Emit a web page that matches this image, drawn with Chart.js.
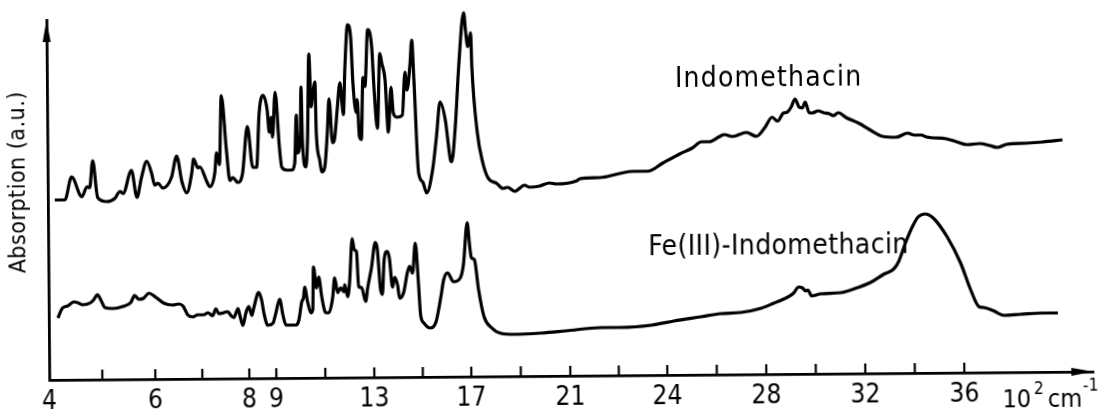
<!DOCTYPE html>
<html>
<head>
<meta charset="utf-8">
<title>IR spectra</title>
<script src="https://cdn.jsdelivr.net/npm/chart.js@4.4.1/dist/chart.umd.min.js"></script>
<style>
  html, body { margin: 0; padding: 0; background: #fff; overflow: hidden; }
  #spec { display: block; transform: rotate(-0.46deg); transform-origin: 50% 50%; }
</style>
</head>
<body>
<canvas id="spec" width="1103" height="416"></canvas>
<script>
// wavenumbers in 10^2 cm-1, absorption in arbitrary units
const TICK_WN = [4, 6, 8, 9, 13, 17, 21, 24, 28, 32, 36];
const MINOR_WN = [5, 7, 11, 15, 19, 22.5, 26, 30, 34];

const INDO_WN = [4.13,4.32,4.45,4.64,4.74,4.79,4.85,4.94,5.11,5.26,
  5.36,5.42,5.58,5.68,5.77,5.87,5.96,6.02,6.09,6.19,
  6.38,6.49,6.60,6.70,6.81,6.85,6.94,6.98,7.13,7.19,
  7.30,7.34,7.40,7.45,7.55,7.62,7.68,7.79,7.89,8.00,
  8.19,8.33,8.44,8.59,8.74,8.81,8.89,8.93,9.04,9.20,
  9.29,9.49,9.69,9.82,9.90,9.94,10.06,10.10,10.14,10.27,
  10.35,10.43,10.51,10.55,10.67,10.71,10.84,10.92,11.04,11.16,
  11.24,11.37,11.45,11.57,11.69,11.78,11.82,11.90,12.02,12.14,
  12.22,12.35,12.39,12.47,12.55,12.63,12.71,12.84,13.00,13.08,
  13.21,13.33,13.41,13.54,13.66,13.78,13.87,14.03,14.24,14.36,
  14.44,14.57,14.65,14.73,14.89,15.06,15.22,15.47,15.64,15.80,
  16.01,16.21,16.26,16.42,16.58,16.80,16.88,16.96,17.08,17.12,
  17.32,17.53,17.73,18.09,18.33,18.53,18.81,19.21,19.41,19.82,
  20.22,20.50,21.25,21.34,21.96,22.58,22.98,23.45,23.91,24.57,
  25.09,25.45,25.78,26.18,26.38,26.71,27.27,27.68,28.00,28.32,
  28.53,28.77,28.93,29.09,29.25,29.41,29.54,29.66,29.82,29.94,
  30.18,30.42,30.63,30.79,30.99,31.31,31.84,32.24,32.77,33.33,
  33.78,34.06,34.34,34.55,35.35,35.76,36.20,36.69,37.09,37.41,
  37.78,38.59,39.23,40.04];
const INDO_ABS = [180,180,203,183,193,192,219,182,178,181,
  188,186,209,182,202,218,206,194,196,191,
  202,223,197,186,206,220,211,212,197,192,
  206,226,214,283,229,198,201,196,205,252,
  211,211,265,283,268,246,261,241,286,231,
  211,208,208,215,263,225,245,291,238,211,
  238,324,271,278,296,245,218,206,210,245,
  279,235,238,268,295,271,263,311,353,341,
  295,265,278,241,238,300,291,348,330,290,
  249,324,314,297,245,290,264,260,262,305,
  287,312,337,297,205,195,184,207,240,275,
  257,217,215,250,310,364,344,330,344,310,
  244,214,199,193,188,189,185,191,189,190,
  193,192,195,197,198,202,204,204,212,221,
  227,233,233,238,240,238,242,238,246,257,
  253,261,262,267,275,267,266,272,261,261,
  263,261,260,258,261,256,250,244,237,236,
  240,238,238,236,234,231,228,229,227,225,
  228,229,230,232];

const FE_WN = [4.17,4.26,4.36,4.47,4.55,4.64,4.79,4.85,4.92,4.98,
  5.06,5.21,5.40,5.55,5.62,5.70,5.79,5.89,6.02,6.19,
  6.38,6.51,6.60,6.70,6.81,6.91,7.04,7.13,7.23,7.30,
  7.36,7.47,7.55,7.62,7.68,7.77,7.81,7.87,7.94,8.00,
  8.11,8.19,8.37,8.48,8.56,8.70,8.89,9.00,9.16,9.29,
  9.41,9.82,9.94,10.06,10.14,10.18,10.31,10.43,10.51,10.55,
  10.67,10.76,10.88,11.04,11.16,11.33,11.41,11.53,11.65,11.78,
  11.82,11.94,12.02,12.14,12.22,12.31,12.39,12.51,12.67,12.76,
  12.92,13.08,13.16,13.28,13.36,13.44,13.57,13.66,13.78,13.87,
  13.99,14.07,14.24,14.40,14.49,14.61,14.73,14.85,14.93,15.06,
  15.31,15.56,15.77,15.89,16.05,16.30,16.58,16.71,16.88,16.96,
  17.04,17.16,17.32,17.53,17.82,18.22,18.75,19.82,20.83,21.96,
  22.58,23.51,24.28,25.37,26.18,26.99,27.80,28.32,28.89,29.13,
  29.33,29.49,29.62,29.70,29.86,30.22,31.03,31.72,32.24,32.77,
  33.17,33.37,33.66,33.94,34.18,34.46,34.79,35.35,35.88,36.28,
  36.61,36.81,37.17,37.62,38.30,39.11,39.80];
const FE_ABS = [62,72,74,78,77,75,77,80,85,80,
  72,71,73,77,84,80,81,86,82,76,
  74,75,73,64,62,64,64,66,63,70,
  65,66,67,63,61,70,63,53,66,72,
  63,71,86,78,65,53,55,65,79,63,
  53,53,58,76,81,91,75,65,68,111,
  90,101,81,65,65,81,100,85,90,86,
  93,81,95,139,128,126,91,90,76,90,
  110,135,129,89,83,117,126,119,90,100,
  92,79,85,105,111,104,134,94,62,54,
  49,55,80,97,104,95,99,112,154,134,
  119,117,87,60,49,43,42,43,45,48,
  48,50,54,58,61,62,66,71,77,81,
  87,86,83,84,78,80,81,86,91,99,
  104,111,130,146,156,159,155,136,110,83,
  66,65,62,57,58,59,59];

// the paper's wavenumber axis is not linear: labelled ticks sit at these axis positions
const AXIS_POS = [0, 106, 200, 227, 325, 422, 521, 618, 717, 816, 915];
const AXIS_END = 1044;
const FONT = '"DejaVu Sans Condensed", "DejaVu Sans", sans-serif';

function warp(w) {
  const n = TICK_WN.length;
  let i = 0;
  while (i < n - 2 && w > TICK_WN[i + 1]) i++;
  const t = (w - TICK_WN[i]) / (TICK_WN[i + 1] - TICK_WN[i]);
  return AXIS_POS[i] + t * (AXIS_POS[i + 1] - AXIS_POS[i]);
}

const tickText = new Map(TICK_WN.map(w => [Math.round(warp(w) * 100), String(w)]));

const axisDecor = {
  id: 'axisDecor',
  afterDraw(chart) {
    const { ctx, chartArea: a, scales: { x } } = chart;
    ctx.save();
    ctx.strokeStyle = '#000';
    ctx.fillStyle = '#000';

    // small ticks pointing up into the plot
    ctx.lineWidth = 2.2;
    TICK_WN.slice(1).concat(MINOR_WN).forEach(w => {
      const px = x.getPixelForValue(warp(w));
      ctx.beginPath();
      ctx.moveTo(px, a.bottom);
      ctx.lineTo(px, a.bottom - 10);
      ctx.stroke();
    });

    // arrow heads
    ctx.beginPath();
    ctx.moveTo(a.left, a.top);
    ctx.lineTo(a.left - 4, a.top + 22);
    ctx.lineTo(a.left + 4, a.top + 22);
    ctx.closePath();
    ctx.fill();
    ctx.beginPath();
    ctx.moveTo(a.right, a.bottom);
    ctx.lineTo(a.right - 22, a.bottom - 4);
    ctx.lineTo(a.right - 22, a.bottom + 4);
    ctx.closePath();
    ctx.fill();

    // axis title
    ctx.save();
    ctx.translate(19, 178);
    ctx.rotate(-Math.PI / 2);
    ctx.font = '23px ' + FONT;
    ctx.letterSpacing = '0.5px';
    ctx.textAlign = 'center';
    ctx.textBaseline = 'middle';
    ctx.fillText('Absorption (a.u.)', 0, 0);
    ctx.restore();

    // curve names
    ctx.textAlign = 'left';
    ctx.textBaseline = 'alphabetic';
    ctx.font = '28px ' + FONT;
    ctx.letterSpacing = '1.2px';
    ctx.fillText('Indomethacin', 676, 88);
    ctx.letterSpacing = '0.4px';
    ctx.fillText('Fe(III)-Indomethacin', 648, 256);
    ctx.letterSpacing = '0px';

    // unit 10^2 cm^-1
    let ux = 1001;
    const uy = 411;
    ctx.font = '25px ' + FONT;
    ctx.fillText('10', ux, uy);
    ux += ctx.measureText('10').width + 3;
    ctx.font = '17px ' + FONT;
    ctx.fillText('2', ux, uy - 13);
    ux += ctx.measureText('2').width + 4;
    ctx.font = '25px ' + FONT;
    ctx.fillText('cm', ux, uy);
    ux += ctx.measureText('cm').width + 1;
    ctx.font = '17px ' + FONT;
    ctx.fillText('-1', ux, uy - 16);
    ctx.restore();
  }
};

const series = (wn, abs) => wn.map((w, i) => ({ x: warp(w), y: abs[i] }));

const line = (label, data) => ({
  label: label,
  data: data,
  borderColor: '#000',
  borderWidth: 3.2,
  pointRadius: 0,
  fill: false,
  cubicInterpolationMode: 'monotone',
  clip: false
});

new Chart(document.getElementById('spec').getContext('2d'), {
  type: 'line',
  data: {
    datasets: [
      line('Indomethacin', series(INDO_WN, INDO_ABS)),
      line('Fe(III)-Indomethacin', series(FE_WN, FE_ABS))
    ]
  },
  options: {
    responsive: false,
    animation: false,
    events: [],
    layout: { padding: { top: 16, right: 11, left: 0, bottom: 0 } },
    plugins: { legend: { display: false }, tooltip: { enabled: false } },
    scales: {
      x: {
        type: 'linear',
        min: 0,
        max: AXIS_END,
        grid: { display: false, drawTicks: false },
        border: { display: true, color: '#000', width: 2.8 },
        afterBuildTicks: s => {
          s.ticks = TICK_WN.concat(MINOR_WN).map(w => ({ value: warp(w) }));
        },
        afterFit: s => { s.height = 40; },
        ticks: {
          autoSkip: false,
          maxRotation: 0,
          padding: 7,
          color: '#000',
          font: { family: FONT, size: 26 },
          callback: v => tickText.get(Math.round(v * 100)) || ''
        }
      },
      y: {
        min: 0,
        max: 360,
        grid: { display: false, drawTicks: false },
        border: { display: true, color: '#000', width: 2.8 },
        ticks: { display: false },
        afterFit: s => { s.width = 48; }
      }
    }
  },
  plugins: [axisDecor]
});
</script>
</body>
</html>
